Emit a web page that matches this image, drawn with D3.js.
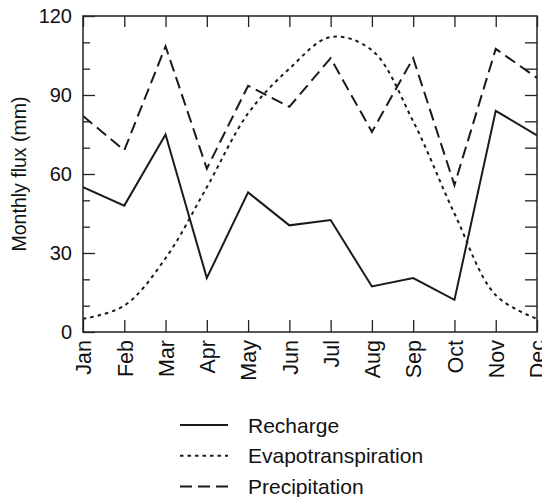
<!DOCTYPE html>
<html>
<head>
<meta charset="utf-8">
<script src="https://cdn.jsdelivr.net/npm/d3@7"></script>
<style>
  body { margin: 0; background: #fff; }
  text { font-family: "Liberation Sans", Arial, Helvetica, sans-serif; fill: #111; }
</style>
</head>
<body>
<div id="chart"></div>
<script>
var svg_width = 542;
var svg_height = 497;
var margin = ({top: 16, right: 5, bottom: 165, left: 83});

var months = ["Jan", "Feb", "Mar", "Apr", "May", "Jun", "Jul", "Aug", "Sep", "Oct", "Nov", "Dec"];
var recharge = [55, 48, 75, 20.5, 53, 40.5, 42.5, 17.3, 20.5, 12.2, 84, 74.7];
var evapotranspiration = [5, 10, 28, 55, 83, 100, 112, 107, 80, 45, 14, 5];
var precipitation = [82, 69, 108.5, 62, 93.5, 85.5, 104, 76, 104, 55.8, 107.5, 96.5];
var yMajorTicks = [0, 30, 60, 90, 120];
var yMinorTicks = [10, 20, 40, 50, 70, 80, 100, 110];
var yAllTicks = [10, 20, 30, 40, 50, 60, 70, 80, 90, 100, 110];

var series = [
  {name: "Recharge", values: recharge, dash: null, curve: d3.curveLinear},
  {name: "Evapotranspiration", values: evapotranspiration, dash: "3.5,4", curve: d3.curveCatmullRom},
  {name: "Precipitation", values: precipitation, dash: "12,6", curve: d3.curveLinear}
];

var x = d3.scalePoint()
    .domain(months)
    .range([margin.left, svg_width - margin.right]);

var y = d3.scaleLinear()
    .domain([0, 120])
    .range([svg_height - margin.bottom, margin.top]);

const svg = d3.select("#chart")
    .append("svg")
    .attr("width", svg_width)
    .attr("height", svg_height);

svg.append("defs").append("clipPath").attr("id", "plot-clip")
  .append("rect")
    .attr("x", x("Jan")).attr("y", y(120))
    .attr("width", x("Dec") - x("Jan")).attr("height", y(0) - y(120));

// axes, ticks pointing inward
var stroke = "#222";
var styleAxis = g => g
    .call(g => g.selectAll(".domain").remove())
    .call(g => g.selectAll(".tick line").attr("stroke", stroke).attr("stroke-width", 1.3));

svg.append("g")
    .attr("transform", `translate(0,${y(0)})`)
    .call(d3.axisBottom(x).tickSizeInner(-12).tickSizeOuter(0))
    .call(styleAxis)
    .call(g => g.selectAll(".tick text")
        .attr("y", 0).attr("x", -8).attr("dy", "0.36em")
        .attr("transform", "rotate(-90)")
        .style("text-anchor", "end")
        .style("font-size", "21.5px")
        .style("font-family", null));

svg.append("g")
    .attr("transform", `translate(0,${y(120)})`)
    .call(d3.axisTop(x).tickSizeInner(-11).tickSizeOuter(0).tickFormat(""))
    .call(styleAxis);

svg.append("g")
    .attr("transform", `translate(${x("Jan")},0)`)
    .call(d3.axisLeft(y).tickValues(yMajorTicks).tickSizeInner(-12).tickSizeOuter(0).tickPadding(11))
    .call(styleAxis)
    .call(g => g.selectAll(".tick text").style("font-size", "20px").style("font-family", null));

svg.append("g")
    .attr("transform", `translate(${x("Jan")},0)`)
    .call(d3.axisLeft(y).tickValues(yMinorTicks).tickSizeInner(-7).tickSizeOuter(0).tickFormat(""))
    .call(styleAxis);

svg.append("g")
    .attr("transform", `translate(${x("Dec")},0)`)
    .call(d3.axisRight(y).tickValues(yAllTicks).tickSizeInner(-12).tickSizeOuter(0).tickFormat(""))
    .call(styleAxis);

// frame
svg.append("rect")
    .attr("x", x("Jan")).attr("y", y(120))
    .attr("width", x("Dec") - x("Jan")).attr("height", y(0) - y(120))
    .attr("fill", "none").attr("stroke", stroke).attr("stroke-width", 1.5);

// lines
series.forEach(function (s) {
    var line = d3.line()
        .x((d, i) => x(months[i]))
        .y(d => y(d))
        .curve(s.curve);
    svg.append("path")
        .datum(s.values)
        .attr("clip-path", "url(#plot-clip)")
        .attr("fill", "none")
        .attr("stroke", "#1a1a1a")
        .attr("stroke-width", 2)
        .attr("stroke-dasharray", s.dash)
        .attr("d", line);
});

// y label
svg.append("text")
    .attr("transform", `translate(26,${(y(0) + y(120)) / 2}) rotate(-90)`)
    .style("text-anchor", "middle")
    .style("font-size", "19.5px")
    .text("Monthly flux (mm)");

// legend
var legend = svg.append("g")
    .selectAll("g")
    .data(series)
    .join("g")
      .attr("transform", (d, i) => `translate(180,${425 + i * 30.8})`);

legend.append("line")
    .attr("x1", 0).attr("x2", 48)
    .attr("stroke", "#1a1a1a")
    .attr("stroke-width", 2)
    .attr("stroke-dasharray", d => d.dash);

legend.append("text")
    .attr("x", 68)
    .attr("dy", "0.36em")
    .style("font-size", "21px")
    .text(d => d.name);
</script>
</body>
</html>
